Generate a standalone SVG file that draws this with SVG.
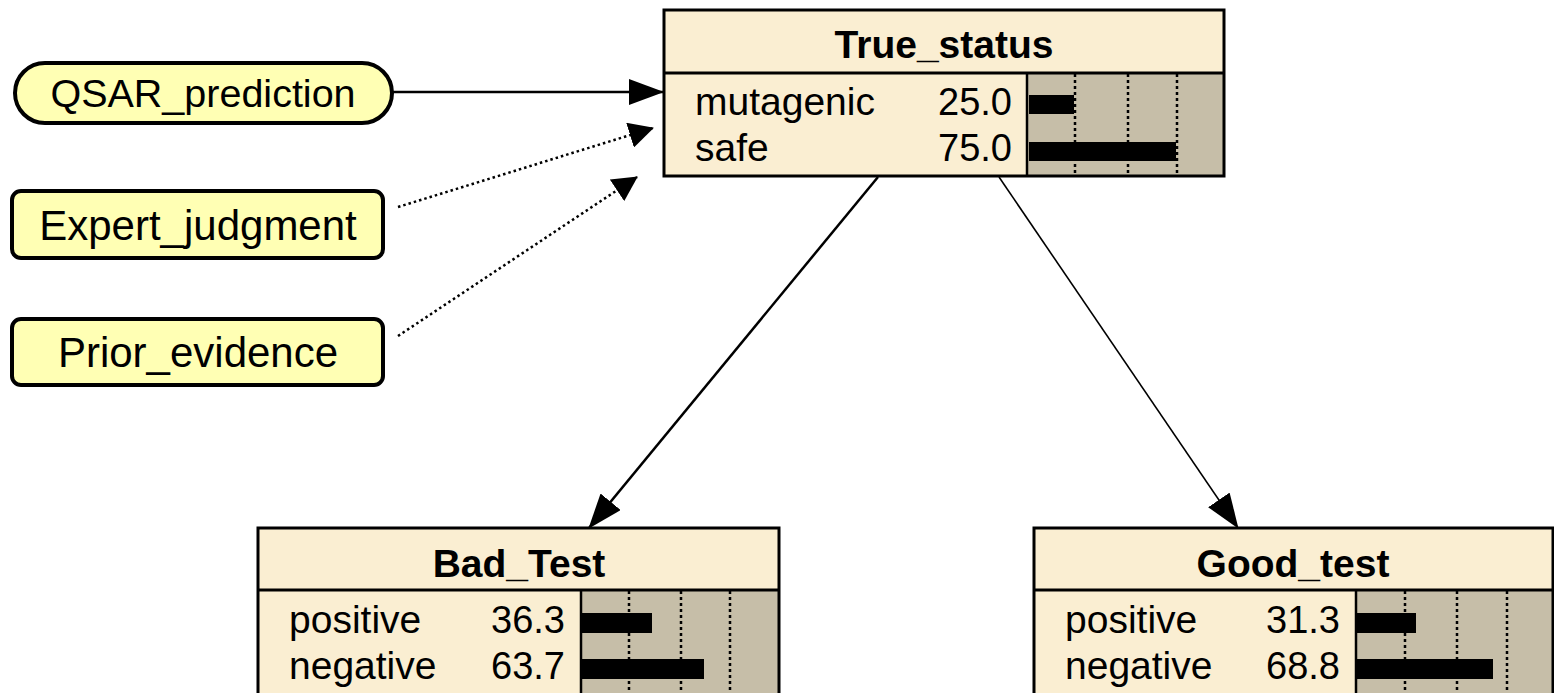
<svg xmlns="http://www.w3.org/2000/svg" width="1554" height="693" viewBox="0 0 1554 693">
<style>
.bg{fill:#ffffff}
.cream{fill:#faeed2}
.barbg{fill:#c6bea8}
.border{fill:none;stroke:#000;stroke-width:3}
.sep{stroke:#000;stroke-width:3}
.sep2{stroke:#000;stroke-width:2.5}
.tick{stroke:#000;stroke-width:2.5;stroke-dasharray:3 3}
.bar{fill:#000}
.title{font-family:"Liberation Sans",Arial,sans-serif;font-weight:bold;font-size:39px;text-anchor:middle;fill:#000}
.state{font-family:"Liberation Sans",Arial,sans-serif;font-size:39px;fill:#000}
.num{font-family:"Liberation Sans",Arial,sans-serif;font-size:38px;fill:#000;text-anchor:end}
.lbl{font-family:"Liberation Sans",Arial,sans-serif;font-size:42px;fill:#000;text-anchor:middle}
.ev{fill:#ffffb4;stroke:#000;stroke-width:4}
.solid{fill:none;stroke:#000;stroke-width:2.5}
.thin{fill:none;stroke:#000;stroke-width:1.6}
.dot{fill:none;stroke:#000;stroke-width:2.5;stroke-dasharray:2.5 3}
</style>
<defs>
<marker id="ah" markerUnits="userSpaceOnUse" markerWidth="35" markerHeight="26" viewBox="0 0 35 26" refX="34" refY="13" orient="auto">
<path d="M0,0 L35,13 L0,26 z" fill="#000"/>
</marker>
<marker id="ahs" markerUnits="userSpaceOnUse" markerWidth="25" markerHeight="26" viewBox="0 0 25 26" refX="24" refY="13" orient="auto">
<path d="M0,0 L25,13 L0,26 z" fill="#000"/>
</marker>
</defs>
<rect class="bg" x="0" y="0" width="1554" height="693"/>

<g id="connectors">
<line class="solid" x1="392" y1="92" x2="663" y2="92" marker-end="url(#ah)"/>
<line class="dot" x1="398" y1="207" x2="653" y2="128" marker-end="url(#ahs)"/>
<line class="dot" x1="398" y1="336" x2="637" y2="177" marker-end="url(#ahs)"/>
<line class="solid" x1="878" y1="177" x2="589" y2="528" marker-end="url(#ah)"/>
<line class="thin" x1="999" y1="177" x2="1238" y2="528" marker-end="url(#ah)"/>
</g>

<g id="QSAR_prediction">
<rect class="ev" x="15" y="63" width="377" height="60" rx="30" ry="30"/>
<text class="lbl" x="203" y="107" style="font-size:39.5px">QSAR_prediction</text>
</g>

<g id="Expert_judgment">
<rect class="ev" x="12" y="191" width="371" height="67" rx="9" ry="9"/>
<text class="lbl" x="198" y="240">Expert_judgment</text>
</g>

<g id="Prior_evidence">
<rect class="ev" x="12" y="319" width="371" height="66" rx="9" ry="9"/>
<text class="lbl" x="198" y="367">Prior_evidence</text>
</g>

<g id="True_status">
<rect class="cream" x="664" y="10" width="560" height="166"/>
<rect class="barbg" x="1027" y="73" width="197" height="103"/>
<line class="tick" x1="1075" y1="74" x2="1075" y2="176"/>
<line class="tick" x1="1128" y1="74" x2="1128" y2="176"/>
<line class="tick" x1="1177" y1="74" x2="1177" y2="176"/>
<rect class="bar" x="1029" y="95" width="45" height="19"/>
<rect class="bar" x="1029" y="142" width="147" height="19"/>
<line class="sep" x1="664" y1="73" x2="1224" y2="73"/>
<line class="sep2" x1="1027" y1="73" x2="1027" y2="176"/>
<rect class="border" x="664" y="10" width="560" height="166"/>
<text class="title" x="944" y="58">True_status</text>
<text class="state" x="695" y="115">mutagenic</text>
<text class="num" x="1012" y="115">25.0</text>
<text class="state" x="695" y="161">safe</text>
<text class="num" x="1012" y="161">75.0</text>
</g>

<g id="Bad_Test">
<rect class="cream" x="258" y="528" width="521" height="170"/>
<rect class="barbg" x="581" y="590" width="198" height="108"/>
<line class="tick" x1="629" y1="591" x2="629" y2="693"/>
<line class="tick" x1="681" y1="591" x2="681" y2="693"/>
<line class="tick" x1="730" y1="591" x2="730" y2="693"/>
<rect class="bar" x="582" y="613" width="70" height="20"/>
<rect class="bar" x="582" y="659" width="122" height="20"/>
<line class="sep" x1="258" y1="590" x2="779" y2="590"/>
<line class="sep2" x1="581" y1="590" x2="581" y2="698"/>
<rect class="border" x="258" y="528" width="521" height="170"/>
<text class="title" x="519" y="577">Bad_Test</text>
<text class="state" x="289" y="633">positive</text>
<text class="num" x="565" y="633">36.3</text>
<text class="state" x="289" y="679">negative</text>
<text class="num" x="565" y="679">63.7</text>
</g>

<g id="Good_test">
<rect class="cream" x="1034" y="528" width="519" height="170"/>
<rect class="barbg" x="1356" y="590" width="197" height="108"/>
<line class="tick" x1="1405" y1="591" x2="1405" y2="693"/>
<line class="tick" x1="1457" y1="591" x2="1457" y2="693"/>
<line class="tick" x1="1507" y1="591" x2="1507" y2="693"/>
<rect class="bar" x="1357" y="613" width="59" height="20"/>
<rect class="bar" x="1357" y="659" width="136" height="20"/>
<line class="sep" x1="1034" y1="590" x2="1553" y2="590"/>
<line class="sep2" x1="1356" y1="590" x2="1356" y2="698"/>
<rect class="border" x="1034" y="528" width="519" height="170"/>
<text class="title" x="1293" y="577">Good_test</text>
<text class="state" x="1065" y="633">positive</text>
<text class="num" x="1340" y="633">31.3</text>
<text class="state" x="1065" y="679">negative</text>
<text class="num" x="1340" y="679">68.8</text>
</g>
</svg>
